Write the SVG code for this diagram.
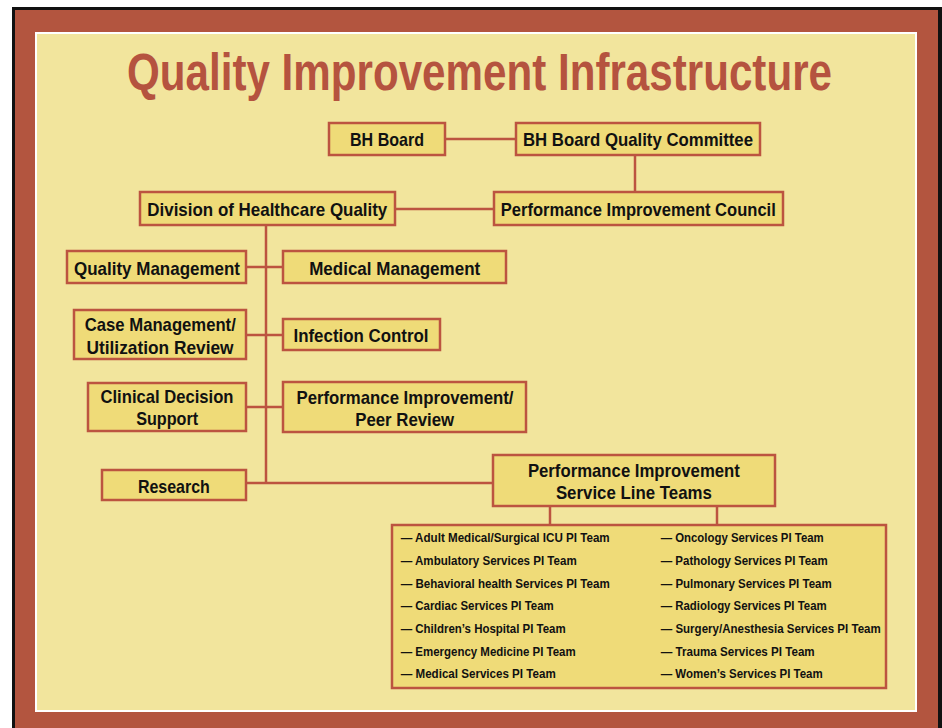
<svg xmlns="http://www.w3.org/2000/svg" width="942" height="728" viewBox="0 0 942 728">
  <style>
    .box { fill: #EFDB78; stroke: #BC5440; stroke-width: 2.5; }
    .link { fill: none; stroke: #BC5440; stroke-width: 2.5; }
    .lbl { font-family: "Liberation Sans Narrow", "Liberation Sans", Arial, sans-serif; font-weight: bold; font-size: 19px; fill: #111; text-anchor: middle; }
    .item { font-family: "Liberation Sans Narrow", "Liberation Sans", Arial, sans-serif; font-weight: bold; font-size: 12.5px; fill: #111; }
    .title { font-family: "Liberation Sans Narrow", "Liberation Sans", Arial, sans-serif; font-weight: bold; font-size: 51px; fill: #B5533F; text-anchor: middle; }
  </style>

  <!-- frame -->
  <rect x="0" y="0" width="942" height="728" fill="#FFFFFF"/>
  <rect x="12" y="7" width="930" height="721" fill="#111111"/>
  <rect x="15" y="10" width="923" height="718" fill="#B3553F"/>
  <rect x="36" y="33" width="880" height="678" fill="#F2E59D" stroke="#FFFFFF" stroke-width="2"/>

  <text class="title" x="479.5" y="90" textLength="705" lengthAdjust="spacingAndGlyphs">Quality Improvement Infrastructure</text>

  <!-- connectors -->
  <g id="connectors">
    <path class="link" d="M446 139 H516"/>
    <path class="link" d="M635 156 V192"/>
    <path class="link" d="M396 209 H494"/>
    <path class="link" d="M266 226 V484"/>
    <path class="link" d="M247 267 H283"/>
    <path class="link" d="M247 335 H283"/>
    <path class="link" d="M247 407 H283"/>
    <path class="link" d="M247 483 H493"/>
    <path class="link" d="M550 506 V525"/>
    <path class="link" d="M717 506 V525"/>
  </g>

  <g id="bh-board">
    <rect class="box" x="329" y="123" width="116" height="32"/>
    <text class="lbl" x="387" y="146" textLength="74" lengthAdjust="spacingAndGlyphs">BH Board</text>
  </g>

  <g id="board-quality-committee">
    <rect class="box" x="516" y="123" width="244" height="32"/>
    <text class="lbl" x="638" y="146" textLength="230" lengthAdjust="spacingAndGlyphs">BH Board Quality Committee</text>
  </g>

  <g id="pi-council">
    <rect class="box" x="494" y="192" width="289" height="33"/>
    <text class="lbl" x="638.3" y="215.5" textLength="275" lengthAdjust="spacingAndGlyphs">Performance Improvement Council</text>
  </g>

  <g id="division">
    <rect class="box" x="140" y="192" width="255" height="33"/>
    <text class="lbl" x="267.3" y="216" textLength="240" lengthAdjust="spacingAndGlyphs">Division of Healthcare Quality</text>
  </g>

  <g id="quality-management">
    <rect class="box" x="67" y="251" width="179" height="32"/>
    <text class="lbl" x="157" y="275" textLength="166" lengthAdjust="spacingAndGlyphs">Quality Management</text>
  </g>

  <g id="medical-management">
    <rect class="box" x="283" y="251" width="223" height="32"/>
    <text class="lbl" x="394.7" y="275" textLength="171" lengthAdjust="spacingAndGlyphs">Medical Management</text>
  </g>

  <g id="case-management">
    <rect class="box" x="74" y="310" width="172" height="49"/>
    <text class="lbl" x="160.3" y="331" textLength="151" lengthAdjust="spacingAndGlyphs">Case Management/</text>
    <text class="lbl" x="160" y="353.5" textLength="147" lengthAdjust="spacingAndGlyphs">Utilization Review</text>
  </g>

  <g id="infection-control">
    <rect class="box" x="283" y="319" width="157" height="31"/>
    <text class="lbl" x="361" y="342" textLength="135" lengthAdjust="spacingAndGlyphs">Infection Control</text>
  </g>

  <g id="clinical-decision-support">
    <rect class="box" x="88" y="383" width="158" height="48"/>
    <text class="lbl" x="167" y="403" textLength="133" lengthAdjust="spacingAndGlyphs">Clinical Decision</text>
    <text class="lbl" x="167.2" y="425" textLength="62" lengthAdjust="spacingAndGlyphs">Support</text>
  </g>

  <g id="pi-peer-review">
    <rect class="box" x="283" y="382" width="243" height="50"/>
    <text class="lbl" x="405" y="403.5" textLength="217" lengthAdjust="spacingAndGlyphs">Performance Improvement/</text>
    <text class="lbl" x="404.7" y="425.5" textLength="99" lengthAdjust="spacingAndGlyphs">Peer Review</text>
  </g>

  <g id="research">
    <rect class="box" x="102" y="470" width="144" height="30"/>
    <text class="lbl" x="173.9" y="492.5" textLength="72" lengthAdjust="spacingAndGlyphs">Research</text>
  </g>

  <g id="pi-service-line-teams">
    <rect class="box" x="493" y="455" width="282" height="51"/>
    <text class="lbl" x="633.9" y="477" textLength="212" lengthAdjust="spacingAndGlyphs">Performance Improvement</text>
    <text class="lbl" x="633.9" y="498.5" textLength="156" lengthAdjust="spacingAndGlyphs">Service Line Teams</text>
  </g>

  <g id="pi-team-list">
    <rect class="box" x="392" y="525" width="494" height="163"/>
    <text class="item" x="400.7" y="542.3" textLength="209" lengthAdjust="spacingAndGlyphs">— Adult Medical/Surgical ICU PI Team</text>
    <text class="item" x="400.7" y="565" textLength="176" lengthAdjust="spacingAndGlyphs">— Ambulatory Services PI Team</text>
    <text class="item" x="400.7" y="587.5" textLength="209" lengthAdjust="spacingAndGlyphs">— Behavioral health Services PI Team</text>
    <text class="item" x="400.7" y="610" textLength="153" lengthAdjust="spacingAndGlyphs">— Cardiac Services PI Team</text>
    <text class="item" x="400.7" y="633.3" textLength="165" lengthAdjust="spacingAndGlyphs">— Children’s Hospital PI Team</text>
    <text class="item" x="400.7" y="656" textLength="175" lengthAdjust="spacingAndGlyphs">— Emergency Medicine PI Team</text>
    <text class="item" x="400.7" y="678.3" textLength="155" lengthAdjust="spacingAndGlyphs">— Medical Services PI Team</text>

    <text class="item" x="660.7" y="542.3" textLength="163" lengthAdjust="spacingAndGlyphs">— Oncology Services PI Team</text>
    <text class="item" x="660.7" y="565" textLength="167" lengthAdjust="spacingAndGlyphs">— Pathology Services PI Team</text>
    <text class="item" x="660.7" y="587.5" textLength="171" lengthAdjust="spacingAndGlyphs">— Pulmonary Services PI Team</text>
    <text class="item" x="660.7" y="610" textLength="166" lengthAdjust="spacingAndGlyphs">— Radiology Services PI Team</text>
    <text class="item" x="660.7" y="633.3" textLength="220" lengthAdjust="spacingAndGlyphs">— Surgery/Anesthesia Services PI Team</text>
    <text class="item" x="660.7" y="656" textLength="154" lengthAdjust="spacingAndGlyphs">— Trauma Services PI Team</text>
    <text class="item" x="660.7" y="678.3" textLength="162" lengthAdjust="spacingAndGlyphs">— Women’s Services PI Team</text>
  </g>
</svg>
